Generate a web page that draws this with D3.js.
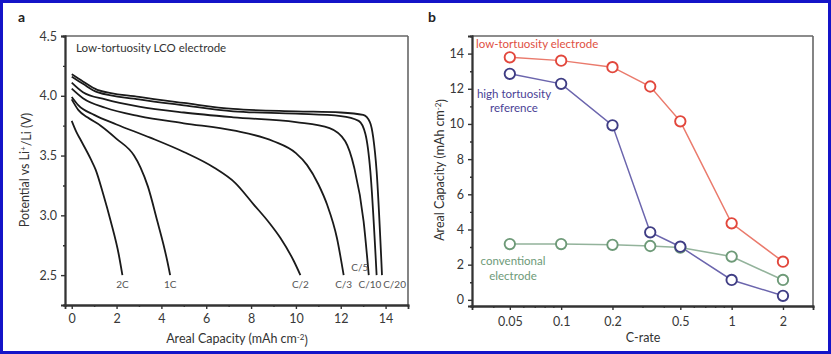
<!DOCTYPE html>
<html><head><meta charset="utf-8">
<script src="https://cdn.jsdelivr.net/npm/d3@7"></script>
<style>
html,body{margin:0;padding:0;background:#fff;}
svg{display:block;font-family:"Lato","Open Sans",sans-serif;}
</style></head>
<body><svg id="c" width="831" height="354"></svg>
<script>
// ---------- Panel a data: discharge curves [capacity mAh/cm2, voltage V] ----------
const rateLabels = ["2C","1C","C/2","C/3","C/5","C/10","C/20"];
const curve2C  = [[0,3.79],[0.2,3.70],[0.4,3.63],[0.85,3.47],[1.07,3.38],[1.4,3.18],[1.74,2.95],[2.1,2.67],[2.26,2.50]];
const curve1C  = [[0,3.97],[0.3,3.88],[0.7,3.82],[1.29,3.75],[2.0,3.64],[2.78,3.50],[3.07,3.40],[3.4,3.24],[3.82,2.95],[4.1,2.75],[4.26,2.62],[4.39,2.50]];
const curveC2  = [[0,3.99],[0.3,3.92],[1.0,3.84],[2.0,3.76],[3.5,3.65],[5.0,3.53],[6.34,3.40],[7.3,3.27],[8.12,3.09],[8.8,2.94],[9.31,2.81],[9.9,2.62],[10.2,2.50]];
const curveC3  = [[0,4.06],[0.5,3.98],[1.5,3.90],[3.0,3.83],[5.0,3.77],[7.2,3.71],[9.0,3.62],[10.0,3.52],[10.5,3.42],[11.0,3.26],[11.39,3.09],[11.83,2.81],[12.13,2.50]];
const curveC5  = [[0,4.11],[0.5,4.03],[1.5,3.97],[3.0,3.91],[5.0,3.86],[7.2,3.82],[10.0,3.78],[11.5,3.73],[12.2,3.62],[12.6,3.40],[13.02,2.95],[13.25,2.50]];
const curveC10 = [[0,4.16],[0.5,4.10],[1.14,4.03],[3.0,3.97],[5.0,3.92],[7.2,3.87],[10.0,3.85],[12.0,3.83],[12.8,3.79],[13.1,3.68],[13.32,3.37],[13.6,2.50]];
const curveC20 = [[0,4.18],[0.5,4.12],[1.14,4.05],[3.0,3.99],[5.0,3.94],[7.2,3.89],[10.0,3.87],[12.0,3.86],[13.0,3.84],[13.3,3.78],[13.45,3.65],[13.6,3.37],[13.84,2.50]];
const curvesA = [curve2C,curve1C,curveC2,curveC3,curveC5,curveC10,curveC20];
const xTicksA = [0,2,4,6,8,10,12,14];
const yTicksA = [2.5,3.0,3.5,4.0,4.5];

// ---------- Panel b data ----------
const cRates = [0.05,0.1,0.2,0.333,0.5,1,2];
const lowTortuosity  = [13.79,13.6,13.23,12.13,10.15,4.35,2.17];
const highTortuosity = [12.85,12.28,9.92,3.84,3.02,1.13,0.23];
const conventional   = [3.17,3.17,3.13,3.06,2.97,2.46,1.13];
const xTicksB = [0.05,0.1,0.2,0.5,1,2];
const xTickLabelsB = ["0.05","0.1","0.2","0.5","1","2"];
const xMinorB = [0.03,0.04,0.06,0.07,0.08,0.09,0.3,0.4,0.6,0.7,0.8,0.9,3];
const yTicksB = [0,2,4,6,8,10,12,14];

const svg = d3.select("#c");
svg.append("rect").attr("x",1.5).attr("y",1.5).attr("width",828).attr("height",351)
  .attr("fill","#fff").attr("stroke","#1414c8").attr("stroke-width",3);

// ================= Panel a =================
const A = {l:65,r:408,t:36,b:305};
const xa = d3.scaleLinear().domain([-0.3,15]).range([A.l,A.r]);
const ya = d3.scaleLinear().domain([2.25,4.5]).range([A.b,A.t]);
const ga = svg.append("g");

ga.append("line").attr("x1",A.l).attr("x2",A.r).attr("y1",A.t).attr("y2",A.t).attr("stroke","#666").attr("stroke-width",1.6);
ga.append("line").attr("x1",A.r).attr("x2",A.r).attr("y1",A.t).attr("y2",A.b).attr("stroke","#666").attr("stroke-width",1.6);

const axA = ga.append("g").attr("transform",`translate(0,${A.b})`)
  .call(d3.axisBottom(xa).tickValues(xTicksA).tickSize(4).tickPadding(5).tickFormat(d3.format("d")));
const axAm = ga.append("g").attr("transform",`translate(0,${A.b})`)
  .call(d3.axisBottom(xa).tickValues(d3.range(1,15,2)).tickSize(2).tickFormat(""));
const ayA = ga.append("g").attr("transform",`translate(${A.l},0)`)
  .call(d3.axisLeft(ya).tickValues(yTicksA).tickSize(4).tickPadding(4).tickFormat(d3.format(".1f")));
const ayAm = ga.append("g").attr("transform",`translate(${A.l},0)`)
  .call(d3.axisLeft(ya).tickValues([2.75,3.25,3.75,4.25]).tickSize(2).tickFormat(""));
[axA,axAm,ayA,ayAm].forEach(g=>{
  g.select(".domain").attr("stroke","#333").attr("stroke-width",1.8);
  g.selectAll(".tick line").attr("stroke","#333").attr("stroke-width",1.4);
  g.selectAll(".tick text").attr("fill","#383838").attr("font-size",12.5).attr("font-family","Lato, sans-serif");
});

const lineA = d3.line().x(d=>xa(d[0])).y(d=>ya(d[1])).curve(d3.curveMonotoneX);
ga.selectAll("path.cv").data(curvesA).join("path").attr("class","cv")
  .attr("d",lineA).attr("fill","none").attr("stroke","#1a1a1a").attr("stroke-width",1.8);

const labPos = [[2.26,284],[4.39,284],[10.2,284],[12.13,284],[12.85,267],[13.3,284],[14.4,284]];
ga.selectAll("text.rl").data(rateLabels).join("text").attr("class","rl")
  .attr("x",(d,i)=>xa(labPos[i][0])).attr("y",(d,i)=>labPos[i][1]).attr("dy","0.35em")
  .attr("text-anchor","middle").attr("font-size",10).attr("fill","#555").text(d=>d);

ga.append("text").attr("x",76).attr("y",48).attr("dy","0.35em").attr("font-size",11.5).attr("fill","#333")
  .text("Low-tortuosity LCO electrode");
const xla = ga.append("text").attr("x",237).attr("y",339).attr("dy","0.35em").attr("text-anchor","middle")
  .attr("font-size",12.5).attr("fill","#333");
xla.append("tspan").text("Areal Capacity (mAh cm");
xla.append("tspan").attr("dy","-0.45em").attr("font-size",8).text("-2");
xla.append("tspan").attr("dy","0.45em").text(")");
const yla = ga.append("text").attr("transform","translate(25,170) rotate(-90)").attr("dy","0.35em")
  .attr("text-anchor","middle").attr("font-size",12.5).attr("fill","#333");
yla.append("tspan").text("Potential vs Li");
yla.append("tspan").attr("dy","-0.45em").attr("font-size",8).text("+");
yla.append("tspan").attr("dy","0.45em").text("/Li (V)");
svg.append("text").attr("x",18).attr("y",17).attr("dy","0.35em").attr("font-weight","bold").attr("font-size",14).attr("fill","#222").text("a");

// ================= Panel b =================
const B = {l:472,r:813,t:36,b:306};
const xb = d3.scaleLog().domain([0.03,3]).range([B.l,B.r]);
const yb = d3.scaleLinear().domain([-0.35,15]).range([B.b,B.t]);
const gb = svg.append("g");
gb.append("line").attr("x1",B.l).attr("x2",B.r).attr("y1",B.t).attr("y2",B.t).attr("stroke","#666").attr("stroke-width",1.6);
gb.append("line").attr("x1",B.r).attr("x2",B.r).attr("y1",B.t).attr("y2",B.b).attr("stroke","#666").attr("stroke-width",1.6);

const axB = gb.append("g").attr("transform",`translate(0,${B.b})`)
  .call(d3.axisBottom(xb).tickValues(xTicksB).tickSize(4).tickPadding(7).tickFormat((d,i)=>xTickLabelsB[i]));
const axBm = gb.append("g").attr("transform",`translate(0,${B.b})`)
  .call(d3.axisBottom(xb).tickValues(xMinorB).tickSize(2).tickFormat(""));
const ayB = gb.append("g").attr("transform",`translate(${B.l},0)`)
  .call(d3.axisLeft(yb).tickValues(yTicksB).tickSize(4).tickPadding(4).tickFormat(d3.format("d")));
const ayBm = gb.append("g").attr("transform",`translate(${B.l},0)`)
  .call(d3.axisLeft(yb).tickValues(d3.range(1,15,2)).tickSize(2).tickFormat(""));
[axB,axBm,ayB,ayBm].forEach(g=>{
  g.select(".domain").attr("stroke","#333").attr("stroke-width",1.8);
  g.selectAll(".tick line").attr("stroke","#333").attr("stroke-width",1.4);
  g.selectAll(".tick text").attr("fill","#383838").attr("font-size",12.5).attr("font-family","Lato, sans-serif");
});

const seriesB = [
  {vals:conventional, line:"#93b39b", stroke:"#6e9a78"},
  {vals:highTortuosity, line:"#6b65ad", stroke:"#3f3d84"},
  {vals:lowTortuosity, line:"#ea7a6c", stroke:"#e2473c"}
];
const lineB = d3.line().x((d,i)=>xb(cRates[i])).y(d=>yb(d));
seriesB.forEach(s=>{
  gb.append("path").attr("d",lineB(s.vals)).attr("fill","none").attr("stroke",s.line).attr("stroke-width",1.5);
});
seriesB.forEach(s=>{
  gb.selectAll(null).data(s.vals).join("circle")
    .attr("cx",(d,i)=>xb(cRates[i])).attr("cy",d=>yb(d)).attr("r",5.2)
    .attr("fill","#fff").attr("stroke",s.stroke).attr("stroke-width",1.9);
});

gb.append("text").attr("x",476).attr("y",44).attr("dy","0.35em").attr("font-size",11.5).attr("fill","#e0503f").text("low-tortuosity electrode");
gb.append("text").attr("x",514).attr("y",94).attr("dy","0.35em").attr("text-anchor","middle").attr("font-size",11.5).attr("fill","#4a3f96").text("high tortuosity");
gb.append("text").attr("x",514).attr("y",108).attr("dy","0.35em").attr("text-anchor","middle").attr("font-size",11.5).attr("fill","#4a3f96").text("reference");
gb.append("text").attr("x",513).attr("y",261).attr("dy","0.35em").attr("text-anchor","middle").attr("font-size",11.5).attr("fill","#6e9a78").text("conventional");
gb.append("text").attr("x",513).attr("y",276).attr("dy","0.35em").attr("text-anchor","middle").attr("font-size",11.5).attr("fill","#6e9a78").text("electrode");

gb.append("text").attr("x",643).attr("y",338).attr("dy","0.35em").attr("text-anchor","middle").attr("font-size",12.5).attr("fill","#333").text("C-rate");
const ylb = gb.append("text").attr("transform","translate(440,170) rotate(-90)").attr("dy","0.35em")
  .attr("text-anchor","middle").attr("font-size",12.5).attr("fill","#333");
ylb.append("tspan").text("Areal Capacity (mAh cm");
ylb.append("tspan").attr("dy","-0.45em").attr("font-size",8).text("-2");
ylb.append("tspan").attr("dy","0.45em").text(")");
svg.append("text").attr("x",428).attr("y",17).attr("dy","0.35em").attr("font-weight","bold").attr("font-size",14).attr("fill","#222").text("b");
</script></body></html>
